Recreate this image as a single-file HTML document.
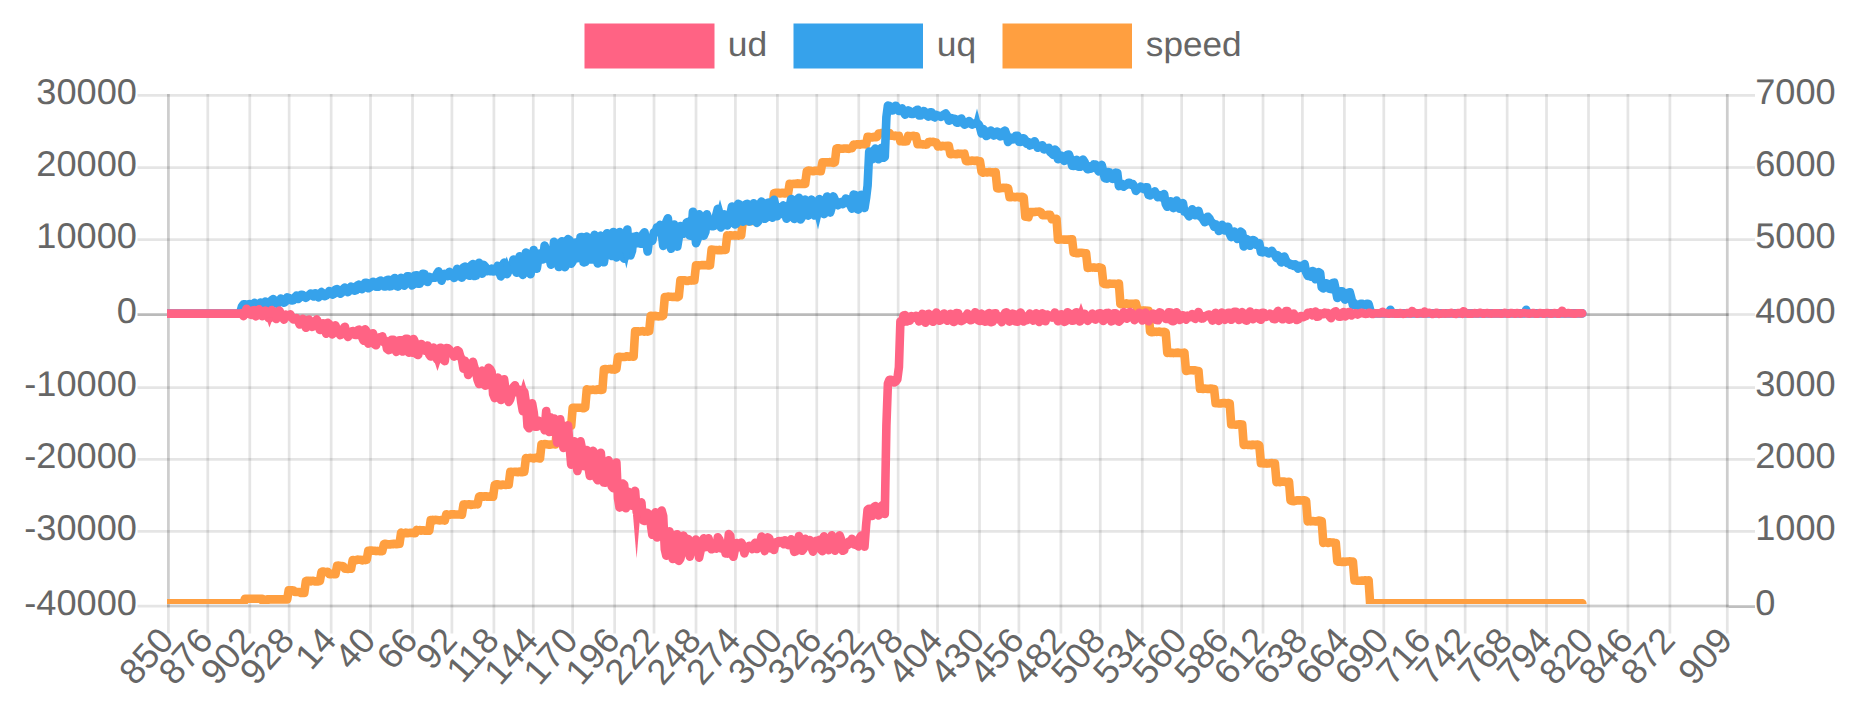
<!DOCTYPE html>
<html><head><meta charset="utf-8"><title>chart</title>
<style>
html,body{margin:0;padding:0;background:#fff;}
body{width:1859px;height:710px;overflow:hidden;font-family:"Liberation Sans",sans-serif;}
svg{display:block;}
text{text-rendering:geometricPrecision;}
</style></head><body>
<svg width="1859" height="710" viewBox="0 0 1859 710">
<defs><clipPath id="ca"><rect x="167.0" y="94.0" width="1558.9" height="510.0"/></clipPath></defs>
<line x1="168.40" y1="94.00" x2="168.40" y2="633.50" stroke="rgba(0,0,0,0.10)" stroke-width="2.75"/>
<line x1="207.78" y1="94.00" x2="207.78" y2="633.50" stroke="rgba(0,0,0,0.10)" stroke-width="2.75"/>
<line x1="249.78" y1="94.00" x2="249.78" y2="633.50" stroke="rgba(0,0,0,0.10)" stroke-width="2.75"/>
<line x1="289.15" y1="94.00" x2="289.15" y2="633.50" stroke="rgba(0,0,0,0.10)" stroke-width="2.75"/>
<line x1="331.15" y1="94.00" x2="331.15" y2="633.50" stroke="rgba(0,0,0,0.10)" stroke-width="2.75"/>
<line x1="370.52" y1="94.00" x2="370.52" y2="633.50" stroke="rgba(0,0,0,0.10)" stroke-width="2.75"/>
<line x1="412.52" y1="94.00" x2="412.52" y2="633.50" stroke="rgba(0,0,0,0.10)" stroke-width="2.75"/>
<line x1="451.90" y1="94.00" x2="451.90" y2="633.50" stroke="rgba(0,0,0,0.10)" stroke-width="2.75"/>
<line x1="493.90" y1="94.00" x2="493.90" y2="633.50" stroke="rgba(0,0,0,0.10)" stroke-width="2.75"/>
<line x1="533.27" y1="94.00" x2="533.27" y2="633.50" stroke="rgba(0,0,0,0.10)" stroke-width="2.75"/>
<line x1="572.65" y1="94.00" x2="572.65" y2="633.50" stroke="rgba(0,0,0,0.10)" stroke-width="2.75"/>
<line x1="614.65" y1="94.00" x2="614.65" y2="633.50" stroke="rgba(0,0,0,0.10)" stroke-width="2.75"/>
<line x1="654.02" y1="94.00" x2="654.02" y2="633.50" stroke="rgba(0,0,0,0.10)" stroke-width="2.75"/>
<line x1="696.02" y1="94.00" x2="696.02" y2="633.50" stroke="rgba(0,0,0,0.10)" stroke-width="2.75"/>
<line x1="735.40" y1="94.00" x2="735.40" y2="633.50" stroke="rgba(0,0,0,0.10)" stroke-width="2.75"/>
<line x1="777.40" y1="94.00" x2="777.40" y2="633.50" stroke="rgba(0,0,0,0.10)" stroke-width="2.75"/>
<line x1="816.77" y1="94.00" x2="816.77" y2="633.50" stroke="rgba(0,0,0,0.10)" stroke-width="2.75"/>
<line x1="858.77" y1="94.00" x2="858.77" y2="633.50" stroke="rgba(0,0,0,0.10)" stroke-width="2.75"/>
<line x1="898.15" y1="94.00" x2="898.15" y2="633.50" stroke="rgba(0,0,0,0.10)" stroke-width="2.75"/>
<line x1="937.52" y1="94.00" x2="937.52" y2="633.50" stroke="rgba(0,0,0,0.10)" stroke-width="2.75"/>
<line x1="979.52" y1="94.00" x2="979.52" y2="633.50" stroke="rgba(0,0,0,0.10)" stroke-width="2.75"/>
<line x1="1018.90" y1="94.00" x2="1018.90" y2="633.50" stroke="rgba(0,0,0,0.10)" stroke-width="2.75"/>
<line x1="1060.90" y1="94.00" x2="1060.90" y2="633.50" stroke="rgba(0,0,0,0.10)" stroke-width="2.75"/>
<line x1="1100.28" y1="94.00" x2="1100.28" y2="633.50" stroke="rgba(0,0,0,0.10)" stroke-width="2.75"/>
<line x1="1142.28" y1="94.00" x2="1142.28" y2="633.50" stroke="rgba(0,0,0,0.10)" stroke-width="2.75"/>
<line x1="1181.65" y1="94.00" x2="1181.65" y2="633.50" stroke="rgba(0,0,0,0.10)" stroke-width="2.75"/>
<line x1="1223.65" y1="94.00" x2="1223.65" y2="633.50" stroke="rgba(0,0,0,0.10)" stroke-width="2.75"/>
<line x1="1263.03" y1="94.00" x2="1263.03" y2="633.50" stroke="rgba(0,0,0,0.10)" stroke-width="2.75"/>
<line x1="1302.40" y1="94.00" x2="1302.40" y2="633.50" stroke="rgba(0,0,0,0.10)" stroke-width="2.75"/>
<line x1="1344.40" y1="94.00" x2="1344.40" y2="633.50" stroke="rgba(0,0,0,0.10)" stroke-width="2.75"/>
<line x1="1383.78" y1="94.00" x2="1383.78" y2="633.50" stroke="rgba(0,0,0,0.10)" stroke-width="2.75"/>
<line x1="1425.78" y1="94.00" x2="1425.78" y2="633.50" stroke="rgba(0,0,0,0.10)" stroke-width="2.75"/>
<line x1="1465.15" y1="94.00" x2="1465.15" y2="633.50" stroke="rgba(0,0,0,0.10)" stroke-width="2.75"/>
<line x1="1507.15" y1="94.00" x2="1507.15" y2="633.50" stroke="rgba(0,0,0,0.10)" stroke-width="2.75"/>
<line x1="1546.53" y1="94.00" x2="1546.53" y2="633.50" stroke="rgba(0,0,0,0.10)" stroke-width="2.75"/>
<line x1="1588.53" y1="94.00" x2="1588.53" y2="633.50" stroke="rgba(0,0,0,0.10)" stroke-width="2.75"/>
<line x1="1627.90" y1="94.00" x2="1627.90" y2="633.50" stroke="rgba(0,0,0,0.10)" stroke-width="2.75"/>
<line x1="1669.90" y1="94.00" x2="1669.90" y2="633.50" stroke="rgba(0,0,0,0.10)" stroke-width="2.75"/>
<line x1="1727.30" y1="94.00" x2="1727.30" y2="633.50" stroke="rgba(0,0,0,0.10)" stroke-width="2.75"/>
<line x1="168.40" y1="94.00" x2="168.40" y2="607.60" stroke="rgba(0,0,0,0.10)" stroke-width="2.75"/>
<line x1="1727.30" y1="94.00" x2="1727.30" y2="607.60" stroke="rgba(0,0,0,0.10)" stroke-width="2.75"/>
<line x1="137.50" y1="95.40" x2="1728.70" y2="95.40" stroke="rgba(0,0,0,0.10)" stroke-width="2.75"/>
<line x1="137.50" y1="167.50" x2="1728.70" y2="167.50" stroke="rgba(0,0,0,0.10)" stroke-width="2.75"/>
<line x1="137.50" y1="239.60" x2="1728.70" y2="239.60" stroke="rgba(0,0,0,0.10)" stroke-width="2.75"/>
<line x1="137.50" y1="314.50" x2="1728.70" y2="314.50" stroke="rgba(0,0,0,0.27)" stroke-width="2.75"/>
<line x1="137.50" y1="387.60" x2="1728.70" y2="387.60" stroke="rgba(0,0,0,0.10)" stroke-width="2.75"/>
<line x1="137.50" y1="459.40" x2="1728.70" y2="459.40" stroke="rgba(0,0,0,0.10)" stroke-width="2.75"/>
<line x1="137.50" y1="531.40" x2="1728.70" y2="531.40" stroke="rgba(0,0,0,0.10)" stroke-width="2.75"/>
<line x1="137.50" y1="606.20" x2="1728.70" y2="606.20" stroke="rgba(0,0,0,0.10)" stroke-width="2.75"/>
<line x1="167.00" y1="605.90" x2="1728.70" y2="605.90" stroke="rgba(0,0,0,0.10)" stroke-width="2.75"/>
<line x1="1728.70" y1="95.40" x2="1755.00" y2="95.40" stroke="rgba(0,0,0,0.10)" stroke-width="2.75"/>
<line x1="1728.70" y1="167.50" x2="1755.00" y2="167.50" stroke="rgba(0,0,0,0.10)" stroke-width="2.75"/>
<line x1="1728.70" y1="239.60" x2="1755.00" y2="239.60" stroke="rgba(0,0,0,0.10)" stroke-width="2.75"/>
<line x1="1728.70" y1="314.50" x2="1755.00" y2="314.50" stroke="rgba(0,0,0,0.10)" stroke-width="2.75"/>
<line x1="1728.70" y1="387.60" x2="1755.00" y2="387.60" stroke="rgba(0,0,0,0.10)" stroke-width="2.75"/>
<line x1="1728.70" y1="459.40" x2="1755.00" y2="459.40" stroke="rgba(0,0,0,0.10)" stroke-width="2.75"/>
<line x1="1728.70" y1="531.40" x2="1755.00" y2="531.40" stroke="rgba(0,0,0,0.10)" stroke-width="2.75"/>
<line x1="1728.70" y1="606.60" x2="1755.00" y2="606.60" stroke="rgba(0,0,0,0.25)" stroke-width="2.75"/>
<g clip-path="url(#ca)" fill="none" stroke-width="8.6" stroke-linejoin="round" stroke-linecap="round">
<path d="M167.0 603.2L168.6 603.2L170.1 603.2L171.7 603.2L173.2 603.2L174.8 603.2L176.4 603.2L177.9 603.2L179.5 603.2L181.0 603.2L182.6 603.2L184.2 603.2L185.7 603.2L187.3 603.2L188.8 603.2L190.4 603.2L192.0 603.2L193.5 603.2L195.1 603.2L196.6 603.2L198.2 603.2L199.8 603.2L201.3 603.2L202.9 603.2L204.5 603.2L206.0 603.2L207.6 603.2L209.1 603.2L210.7 603.2L212.3 603.2L213.8 603.2L215.4 603.2L216.9 603.2L218.5 603.2L220.1 603.2L221.6 603.2L223.2 603.2L224.7 603.2L226.3 603.2L227.9 603.2L229.4 603.2L231.0 603.2L232.5 603.2L234.1 603.2L235.7 603.2L237.2 603.2L238.8 603.2L240.3 603.2L241.9 603.2L243.5 603.2L245.0 598.7L246.6 598.7L248.1 598.7L249.7 598.7L251.3 598.7L252.8 598.7L254.4 598.7L255.9 598.7L257.5 598.7L259.1 598.7L260.6 598.7L262.2 598.7L263.7 603.0L265.3 603.0L266.9 599.4L268.4 599.4L270.0 599.4L271.6 599.4L273.1 599.4L274.7 599.4L276.2 599.4L277.8 599.4L279.4 599.4L280.9 599.4L282.5 599.4L284.0 599.4L285.6 599.4L287.2 599.4L288.7 590.2L290.3 590.4L291.8 590.3L293.4 590.5L295.0 592.0L296.5 592.0L298.1 592.0L299.6 592.0L301.2 593.0L302.8 593.0L304.3 593.0L305.9 581.2L307.4 580.7L309.0 580.7L310.6 581.4L312.1 580.9L313.7 580.9L315.2 581.5L316.8 581.1L318.4 581.4L319.9 581.1L321.5 571.9L323.0 571.5L324.6 571.9L326.2 572.1L327.7 571.8L329.3 574.2L330.8 574.2L332.4 573.6L334.0 574.2L335.5 574.1L337.1 565.8L338.7 565.6L340.2 566.3L341.8 566.0L343.3 566.2L344.9 568.8L346.5 568.7L348.0 568.9L349.6 568.4L351.1 568.8L352.7 560.0L354.3 560.4L355.8 560.3L357.4 559.6L358.9 559.7L360.5 559.7L362.1 560.4L363.6 559.9L365.2 560.1L366.7 559.8L368.3 550.7L369.9 550.6L371.4 550.6L373.0 550.8L374.5 550.8L376.1 551.1L377.7 550.9L379.2 551.1L380.8 551.0L382.3 551.1L383.9 544.2L385.5 543.7L387.0 544.3L388.6 544.4L390.1 544.4L391.7 544.1L393.3 544.2L394.8 543.7L396.4 544.3L397.9 544.1L399.5 543.8L401.1 532.6L402.6 533.3L404.2 533.4L405.8 532.6L407.3 533.3L408.9 532.9L410.4 532.7L412.0 532.8L413.6 533.2L415.1 533.3L416.7 530.0L418.2 530.5L419.8 530.0L421.4 530.6L422.9 530.2L424.5 530.7L426.0 530.8L427.6 530.4L429.2 530.8L430.7 520.1L432.3 519.9L433.8 520.4L435.4 519.9L437.0 520.0L438.5 520.2L440.1 520.4L441.6 520.0L443.2 519.9L444.8 520.6L446.3 514.2L447.9 514.8L449.4 514.8L451.0 514.3L452.6 514.4L454.1 514.4L455.7 514.5L457.2 514.5L458.8 514.5L460.4 514.5L461.9 514.8L463.5 504.5L465.0 504.4L466.6 504.7L468.2 504.3L469.7 504.3L471.3 504.9L472.9 504.5L474.4 504.5L476.0 504.1L477.5 504.4L479.1 496.7L480.7 496.2L482.2 496.7L483.8 496.7L485.3 496.2L486.9 496.7L488.5 496.6L490.0 496.8L491.6 496.5L493.1 496.8L494.7 485.0L496.3 484.4L497.8 484.4L499.4 485.0L500.9 485.2L502.5 484.6L504.1 484.8L505.6 484.9L507.2 484.6L508.7 484.7L510.3 471.8L511.9 471.9L513.4 472.1L515.0 471.8L516.5 471.9L518.1 472.2L519.7 471.6L521.2 472.1L522.8 472.2L524.3 471.8L525.9 458.0L527.5 458.5L529.0 458.0L530.6 457.9L532.1 458.1L533.7 458.4L535.3 457.8L536.8 458.0L538.4 458.1L540.0 458.5L541.5 444.3L543.1 444.7L544.6 444.1L546.2 444.3L547.8 444.5L549.3 444.7L550.9 444.4L552.4 444.2L554.0 444.1L555.6 444.4L557.1 425.7L558.7 426.3L560.2 426.3L561.8 425.7L563.4 425.8L564.9 426.3L566.5 426.1L568.0 426.3L569.6 425.9L571.2 425.7L572.7 407.7L574.3 408.2L575.8 407.7L577.4 407.8L579.0 407.8L580.5 407.8L582.1 407.8L583.6 408.3L585.2 407.6L586.8 389.2L588.3 390.0L589.9 389.9L591.4 390.0L593.0 389.5L594.6 390.0L596.1 390.0L597.7 389.3L599.2 389.8L600.8 389.9L602.4 389.7L603.9 369.3L605.5 369.1L607.0 369.2L608.6 369.1L610.2 368.9L611.7 369.4L613.3 369.1L614.9 369.6L616.4 368.9L618.0 357.0L619.5 356.8L621.1 357.0L622.7 357.0L624.2 357.0L625.8 356.7L627.3 356.2L628.9 356.8L630.5 356.3L632.0 356.4L633.6 356.7L635.1 331.3L636.7 331.2L638.3 331.7L639.8 331.4L641.4 331.2L642.9 331.1L644.5 331.6L646.1 331.3L647.6 331.6L649.2 331.2L650.7 315.7L652.3 316.0L653.9 316.3L655.4 315.7L657.0 316.3L658.5 316.4L660.1 316.3L661.7 316.3L663.2 315.6L664.8 297.1L666.3 297.3L667.9 296.6L669.5 296.8L671.0 296.8L672.6 297.0L674.1 296.9L675.7 297.0L677.3 297.2L678.8 296.6L680.4 280.2L682.0 280.3L683.5 280.3L685.1 280.2L686.6 281.0L688.2 280.9L689.8 280.2L691.3 280.6L692.9 280.4L694.4 280.4L696.0 265.2L697.6 265.4L699.1 265.4L700.7 265.2L702.2 265.0L703.8 265.1L705.4 265.0L706.9 265.3L708.5 265.5L710.0 265.2L711.6 249.6L713.2 249.7L714.7 249.9L716.3 250.1L717.8 250.3L719.4 249.9L721.0 250.3L722.5 250.1L724.1 249.9L725.6 249.9L727.2 235.4L728.8 235.6L730.3 235.3L731.9 235.6L733.4 235.4L735.0 235.2L736.6 235.4L738.1 235.6L739.7 235.0L741.2 235.3L742.8 220.9L744.4 221.3L745.9 221.4L747.5 220.9L749.1 221.4L750.6 221.3L752.2 220.8L753.7 221.0L755.3 220.7L756.9 221.3L758.4 207.1L760.0 207.3L761.5 207.3L763.1 207.2L764.7 207.2L766.2 207.1L767.8 206.6L769.3 207.1L770.9 206.6L772.5 206.7L774.0 193.4L775.6 192.8L777.1 192.8L778.7 192.8L780.3 193.5L781.8 192.9L783.4 192.8L784.9 193.5L786.5 192.9L788.1 193.5L789.6 183.9L791.2 184.0L792.7 184.1L794.3 183.8L795.9 184.0L797.4 183.3L799.0 183.9L800.5 183.7L802.1 183.9L803.7 183.3L805.2 183.9L806.8 171.4L808.3 170.6L809.9 170.8L811.5 171.1L813.0 171.3L814.6 170.8L816.2 170.7L817.7 170.8L819.3 171.1L820.8 171.2L822.4 162.4L824.0 162.4L825.5 162.4L827.1 162.4L828.6 162.4L830.2 162.1L831.8 162.5L833.3 162.9L834.9 162.4L836.4 148.7L838.0 148.2L839.6 148.7L841.1 148.7L842.7 148.7L844.2 148.5L845.8 148.5L847.4 148.6L848.9 148.9L850.5 148.2L852.0 148.1L853.6 144.6L855.2 144.8L856.7 144.4L858.3 144.3L859.8 144.6L861.4 144.1L863.0 144.2L864.5 144.1L866.1 144.5L867.6 136.8L869.2 136.8L870.8 137.2L872.3 137.4L873.9 136.8L875.4 137.2L877.0 136.9L878.6 133.6L880.1 133.4L881.7 133.1L883.3 133.0L884.8 132.9L886.4 133.3L887.9 133.2L889.5 133.0L891.1 135.8L892.6 135.7L894.2 136.1L895.7 135.6L897.3 136.3L898.9 135.9L900.4 141.3L902.0 141.2L903.5 141.5L905.1 141.5L906.7 141.3L908.2 135.9L909.8 136.1L911.3 136.2L912.9 135.8L914.5 136.1L916.0 136.3L917.6 144.2L919.1 144.0L920.7 144.0L922.3 144.4L923.8 144.4L925.4 144.6L926.9 144.5L928.5 142.0L930.1 141.9L931.6 142.0L933.2 141.9L934.7 142.4L936.3 142.5L937.9 146.5L939.4 145.9L941.0 146.4L942.5 145.9L944.1 146.0L945.7 146.3L947.2 145.7L948.8 145.7L950.4 154.3L951.9 153.8L953.5 153.9L955.0 154.1L956.6 154.2L958.2 153.6L959.7 153.9L961.3 153.9L962.8 154.0L964.4 153.7L966.0 161.0L967.5 161.3L969.1 160.8L970.6 160.9L972.2 160.6L973.8 160.7L975.3 161.0L976.9 160.6L978.4 161.2L980.0 161.3L981.6 171.8L983.1 172.6L984.7 172.1L986.2 172.4L987.8 172.4L989.4 172.0L990.9 172.4L992.5 172.3L994.0 172.5L995.6 172.0L997.2 188.2L998.7 188.4L1000.3 188.2L1001.8 188.0L1003.4 187.7L1005.0 188.0L1006.5 187.9L1008.1 188.2L1009.6 197.2L1011.2 197.1L1012.8 196.7L1014.3 197.1L1015.9 197.1L1017.5 196.7L1019.0 197.4L1020.6 197.1L1022.1 196.7L1023.7 197.4L1025.3 216.7L1026.8 216.8L1028.4 217.2L1029.9 212.1L1031.5 212.0L1033.1 212.1L1034.6 212.0L1036.2 211.8L1037.7 211.7L1039.3 211.6L1040.9 212.2L1042.4 215.2L1044.0 215.0L1045.5 215.2L1047.1 214.9L1048.7 214.8L1050.2 214.9L1051.8 219.3L1053.3 218.6L1054.9 219.0L1056.5 218.8L1058.0 239.8L1059.6 239.5L1061.1 239.4L1062.7 239.5L1064.3 239.6L1065.8 239.8L1067.4 239.5L1068.9 239.9L1070.5 239.3L1072.1 239.4L1073.6 252.6L1075.2 252.7L1076.7 253.3L1078.3 253.2L1079.9 252.7L1081.4 252.7L1083.0 252.9L1084.6 253.2L1086.1 253.3L1087.7 267.9L1089.2 267.8L1090.8 267.4L1092.4 267.6L1093.9 267.4L1095.5 267.7L1097.0 267.8L1098.6 267.4L1100.2 267.5L1101.7 268.0L1103.3 283.3L1104.8 284.0L1106.4 284.1L1108.0 284.1L1109.5 283.6L1111.1 283.7L1112.6 283.8L1114.2 283.8L1115.8 284.1L1117.3 283.9L1118.9 283.5L1120.4 304.1L1122.0 303.8L1123.6 303.9L1125.1 304.0L1126.7 303.4L1128.2 304.0L1129.8 303.9L1131.4 303.8L1132.9 303.8L1134.5 303.8L1136.0 303.5L1137.6 310.5L1139.2 310.1L1140.7 310.5L1142.3 310.6L1143.8 310.4L1145.4 310.6L1147.0 310.9L1148.5 310.9L1150.1 331.7L1151.7 332.3L1153.2 332.1L1154.8 331.6L1156.3 331.9L1157.9 331.8L1159.5 331.6L1161.0 332.0L1162.6 332.4L1164.1 331.8L1165.7 332.3L1167.3 352.9L1168.8 352.4L1170.4 353.0L1171.9 352.8L1173.5 353.1L1175.1 352.9L1176.6 352.9L1178.2 352.6L1179.7 353.0L1181.3 353.1L1182.9 353.0L1184.4 352.6L1186.0 370.9L1187.5 370.7L1189.1 370.3L1190.7 370.3L1192.2 370.3L1193.8 370.4L1195.3 370.4L1196.9 370.7L1198.5 370.9L1200.0 388.8L1201.6 388.7L1203.1 388.9L1204.7 388.6L1206.3 388.8L1207.8 389.0L1209.4 388.7L1210.9 388.5L1212.5 389.2L1214.1 389.0L1215.6 403.3L1217.2 403.3L1218.8 403.4L1220.3 403.5L1221.9 403.2L1223.4 403.0L1225.0 403.1L1226.6 403.7L1228.1 403.1L1229.7 403.4L1231.2 424.5L1232.8 424.5L1234.4 424.5L1235.9 424.7L1237.5 424.5L1239.0 424.4L1240.6 424.4L1242.2 424.5L1243.7 445.0L1245.3 444.6L1246.8 444.6L1248.4 445.0L1250.0 444.9L1251.5 445.2L1253.1 444.6L1254.6 444.9L1256.2 444.9L1257.8 444.6L1259.3 445.4L1260.9 463.2L1262.4 463.1L1264.0 463.5L1265.6 463.2L1267.1 463.6L1268.7 463.4L1270.2 463.2L1271.8 463.1L1273.4 463.7L1274.9 463.3L1276.5 482.1L1278.0 481.8L1279.6 482.2L1281.2 481.6L1282.7 481.6L1284.3 481.6L1285.9 482.1L1287.4 481.9L1289.0 481.7L1290.5 500.4L1292.1 501.0L1293.7 501.2L1295.2 500.9L1296.8 500.4L1298.3 500.4L1299.9 500.4L1301.5 500.5L1303.0 500.4L1304.6 500.4L1306.1 500.9L1307.7 521.4L1309.3 520.7L1310.8 521.4L1312.4 521.0L1313.9 521.3L1315.5 521.4L1317.1 521.4L1318.6 520.6L1320.2 520.8L1321.7 521.1L1323.3 543.0L1324.9 542.2L1326.4 542.4L1328.0 542.9L1329.5 542.3L1331.1 542.5L1332.7 542.5L1334.2 542.8L1335.8 543.0L1337.3 561.3L1338.9 561.8L1340.5 561.8L1342.0 561.9L1343.6 561.6L1345.1 562.0L1346.7 561.5L1348.3 561.5L1349.8 561.4L1351.4 561.9L1352.9 561.6L1354.5 580.4L1356.1 580.3L1357.6 580.8L1359.2 580.7L1360.8 580.8L1362.3 580.5L1363.9 580.6L1365.4 580.3L1367.0 580.8L1368.6 580.2L1370.1 603.2L1371.7 603.2L1373.2 603.2L1374.8 603.2L1376.4 603.2L1377.9 603.2L1379.5 603.2L1381.0 603.2L1382.6 603.2L1384.2 603.2L1385.7 603.2L1387.3 603.2L1388.8 603.2L1390.4 603.2L1392.0 603.2L1393.5 603.2L1395.1 603.2L1396.6 603.2L1398.2 603.2L1399.8 603.2L1401.3 603.2L1402.9 603.2L1404.4 603.2L1406.0 603.2L1407.6 603.2L1409.1 603.2L1410.7 603.2L1412.2 603.2L1413.8 603.2L1415.4 603.2L1416.9 603.2L1418.5 603.2L1420.0 603.2L1421.6 603.2L1423.2 603.2L1424.7 603.2L1426.3 603.2L1427.9 603.2L1429.4 603.2L1431.0 603.2L1432.5 603.2L1434.1 603.2L1435.7 603.2L1437.2 603.2L1438.8 603.2L1440.3 603.2L1441.9 603.2L1443.5 603.2L1445.0 603.2L1446.6 603.2L1448.1 603.2L1449.7 603.2L1451.3 603.2L1452.8 603.2L1454.4 603.2L1455.9 603.2L1457.5 603.2L1459.1 603.2L1460.6 603.2L1462.2 603.2L1463.7 603.2L1465.3 603.2L1466.9 603.2L1468.4 603.2L1470.0 603.2L1471.5 603.2L1473.1 603.2L1474.7 603.2L1476.2 603.2L1477.8 603.2L1479.3 603.2L1480.9 603.2L1482.5 603.2L1484.0 603.2L1485.6 603.2L1487.1 603.2L1488.7 603.2L1490.3 603.2L1491.8 603.2L1493.4 603.2L1495.0 603.2L1496.5 603.2L1498.1 603.2L1499.6 603.2L1501.2 603.2L1502.8 603.2L1504.3 603.2L1505.9 603.2L1507.4 603.2L1509.0 603.2L1510.6 603.2L1512.1 603.2L1513.7 603.2L1515.2 603.2L1516.8 603.2L1518.4 603.2L1519.9 603.2L1521.5 603.2L1523.0 603.2L1524.6 603.2L1526.2 603.2L1527.7 603.2L1529.3 603.2L1530.8 603.2L1532.4 603.2L1534.0 603.2L1535.5 603.2L1537.1 603.2L1538.6 603.2L1540.2 603.2L1541.8 603.2L1543.3 603.2L1544.9 603.2L1546.4 603.2L1548.0 603.2L1549.6 603.2L1551.1 603.2L1552.7 603.2L1554.2 603.2L1555.8 603.2L1557.4 603.2L1558.9 603.2L1560.5 603.2L1562.1 603.2L1563.6 603.2L1565.2 603.2L1566.7 603.2L1568.3 603.2L1569.9 603.2L1571.4 603.2L1573.0 603.2L1574.5 603.2L1576.1 603.2L1577.7 603.2L1579.2 603.2L1580.8 603.2L1582.3 603.2" stroke="#ff9f40"/>
<path d="M167.0 313.6L168.6 313.6L170.1 313.6L171.7 313.6L173.2 313.6L174.8 313.6L176.4 313.6L177.9 313.6L179.5 313.6L181.0 313.6L182.6 313.6L184.2 313.6L185.7 313.6L187.3 313.6L188.8 313.6L190.4 313.6L192.0 313.6L193.5 313.6L195.1 313.6L196.6 313.6L198.2 313.6L199.8 313.6L201.3 313.6L202.9 313.6L204.5 313.6L206.0 313.6L207.6 313.6L209.1 313.6L210.7 313.6L212.3 313.6L213.8 313.6L215.4 313.6L216.9 313.6L218.5 313.6L220.1 313.6L221.6 313.6L223.2 313.6L224.7 313.6L226.3 313.6L227.9 313.6L229.4 313.6L231.0 313.6L232.5 313.6L234.1 313.6L235.7 313.6L237.2 313.6L238.8 313.6L240.3 312.5L241.9 306.7L243.5 304.3L245.0 304.4L246.6 307.1L248.1 307.9L249.7 304.0L251.3 305.8L252.8 304.3L254.4 302.9L255.9 304.4L257.5 306.7L259.1 304.4L260.6 302.5L262.2 304.7L263.7 305.3L265.3 301.6L266.9 302.2L268.4 305.0L270.0 303.3L271.6 300.2L273.1 299.1L274.7 300.5L276.2 303.7L277.8 303.7L279.4 300.7L280.9 298.6L282.5 300.6L284.0 302.7L285.6 301.5L287.2 297.4L288.7 297.8L290.3 298.6L291.8 300.4L293.4 300.2L295.0 297.2L296.5 295.6L298.1 299.0L299.6 297.9L301.2 294.8L302.8 295.1L304.3 296.8L305.9 297.8L307.4 296.5L309.0 295.1L310.6 293.6L312.1 295.6L313.7 296.5L315.2 293.2L316.8 295.4L318.4 297.4L319.9 293.9L321.5 292.1L323.0 293.2L324.6 296.1L326.2 295.5L327.7 293.6L329.3 291.0L330.8 292.9L332.4 294.6L334.0 293.8L335.5 289.5L337.1 289.0L338.7 290.9L340.2 293.7L341.8 292.5L343.3 288.9L344.9 287.5L346.5 290.6L348.0 292.2L349.6 290.1L351.1 286.6L352.7 287.5L354.3 290.7L355.8 290.4L357.4 285.5L358.9 284.6L360.5 288.6L362.1 289.1L363.6 287.2L365.2 282.8L366.7 282.9L368.3 288.3L369.9 287.3L371.4 285.0L373.0 281.7L374.5 283.6L376.1 286.7L377.7 286.8L379.2 281.2L380.8 280.6L382.3 284.4L383.9 286.5L385.5 286.5L387.0 280.0L388.6 279.8L390.1 286.3L391.7 286.0L393.3 279.4L394.8 278.0L396.4 286.0L397.9 286.6L399.5 281.1L401.1 277.9L402.6 278.8L404.2 285.7L405.8 283.4L407.3 276.4L408.9 276.3L410.4 279.5L412.0 285.4L413.6 284.3L415.1 275.4L416.7 275.2L418.2 283.7L419.8 283.6L421.4 279.8L422.9 273.7L424.5 273.9L426.0 280.5L427.6 282.0L429.2 276.8L430.7 277.9L432.3 277.9L433.8 277.0L435.4 277.6L437.0 273.6L438.5 271.4L440.1 274.4L441.6 280.7L443.2 274.5L444.8 273.9L446.3 275.6L447.9 276.2L449.4 271.9L451.0 273.5L452.6 275.0L454.1 278.0L455.7 273.7L457.2 268.8L458.8 271.3L460.4 276.6L461.9 277.6L463.5 267.3L465.0 266.6L466.6 270.4L468.2 275.2L469.7 275.8L471.3 265.3L472.9 264.0L474.4 276.0L476.0 275.6L477.5 264.3L479.1 262.7L480.7 273.2L482.2 273.7L483.8 264.9L485.3 266.7L486.9 271.2L488.5 269.8L490.0 271.3L491.6 268.6L493.1 271.5L494.7 271.3L496.3 268.6L497.8 265.7L499.4 272.5L500.9 276.4L502.5 266.5L504.1 262.6L505.6 265.6L507.2 274.1L508.7 270.0L510.3 269.8L511.9 266.9L513.4 259.5L515.0 266.4L516.5 272.7L518.1 267.1L519.7 256.2L521.2 263.9L522.8 274.9L524.3 269.0L525.9 252.6L527.5 257.1L529.0 271.9L530.6 274.2L532.1 256.2L533.7 250.0L535.3 263.3L536.8 268.7L538.4 258.1L540.0 253.3L541.5 258.8L543.1 259.4L544.6 245.5L546.2 251.3L547.8 256.2L549.3 257.2L550.9 264.7L552.4 259.0L554.0 241.9L555.6 243.3L557.1 257.7L558.7 267.0L560.2 257.5L561.8 241.2L563.4 249.8L564.9 267.3L566.5 264.3L568.0 239.1L569.6 240.1L571.2 263.7L572.7 261.4L574.3 246.2L575.8 242.5L577.4 258.2L579.0 252.8L580.5 237.3L582.1 237.0L583.6 262.4L585.2 262.1L586.8 236.5L588.3 239.3L589.9 259.5L591.4 259.4L593.0 238.0L594.6 234.8L596.1 254.5L597.7 263.5L599.2 242.5L600.8 235.6L602.4 249.2L603.9 262.3L605.5 252.3L607.0 233.2L608.6 248.2L610.2 253.3L611.7 256.0L613.3 232.0L614.9 246.3L616.4 257.4L618.0 243.8L619.5 232.1L621.1 240.2L622.7 257.0L624.2 258.7L625.8 238.4L627.3 229.5L628.9 255.0L630.5 255.3L632.0 250.9L633.6 236.9L635.1 243.3L636.7 236.1L638.3 243.3L639.8 243.3L641.4 243.8L642.9 234.2L644.5 232.3L646.1 239.9L647.6 251.5L649.2 239.2L650.7 240.4L652.3 240.8L653.9 232.2L655.4 232.7L657.0 227.2L658.5 231.8L660.1 224.9L661.7 232.1L663.2 245.9L664.8 242.9L666.3 222.0L667.9 218.3L669.5 238.6L671.0 248.7L672.6 239.6L674.1 224.5L675.7 234.3L677.3 246.6L678.8 237.2L680.4 226.0L682.0 230.2L683.5 233.7L685.1 229.7L686.6 222.6L688.2 221.8L689.8 235.6L691.3 235.9L692.9 211.7L694.4 223.9L696.0 243.2L697.6 239.0L699.1 214.3L700.7 221.7L702.2 233.1L703.8 235.7L705.4 231.8L706.9 214.4L708.5 219.1L710.0 225.4L711.6 226.2L713.2 226.2L714.7 225.7L716.3 214.8L717.8 208.9L719.4 221.6L721.0 227.5L722.5 217.2L724.1 214.3L725.6 216.9L727.2 225.5L728.8 222.2L730.3 215.0L731.9 206.5L733.4 208.3L735.0 224.5L736.6 223.4L738.1 203.9L739.7 204.7L741.2 214.5L742.8 221.7L744.4 215.1L745.9 204.4L747.5 203.8L749.1 221.5L750.6 220.9L752.2 207.0L753.7 203.3L755.3 210.3L756.9 222.9L758.4 221.0L760.0 203.8L761.5 201.5L763.1 206.6L764.7 218.8L766.2 217.9L767.8 202.7L769.3 202.5L770.9 215.3L772.5 217.7L774.0 199.9L775.6 206.5L777.1 216.3L778.7 207.3L780.3 209.2L781.8 213.9L783.4 205.4L784.9 210.6L786.5 218.7L788.1 217.1L789.6 206.6L791.2 199.0L792.7 214.2L794.3 219.0L795.9 206.3L797.4 199.4L799.0 197.8L800.5 219.5L802.1 216.8L803.7 202.5L805.2 199.5L806.8 213.9L808.3 215.6L809.9 206.9L811.5 199.6L813.0 202.6L814.6 215.5L816.2 214.2L817.7 203.3L819.3 199.1L820.8 204.7L822.4 210.3L824.0 214.1L825.5 202.1L827.1 196.5L828.6 202.9L830.2 212.6L831.8 206.9L833.3 196.4L834.9 199.9L836.4 203.7L838.0 205.2L839.6 203.9L841.1 202.1L842.7 204.2L844.2 202.5L845.8 198.5L847.4 203.1L848.9 199.9L850.5 205.5L852.0 208.7L853.6 194.6L855.2 195.0L856.7 208.9L858.3 209.6L859.8 195.5L861.4 194.9L863.0 203.1L864.5 208.0L866.1 197.9L867.6 185.5L869.2 151.6L870.8 158.1L872.3 159.2L873.9 150.6L875.4 148.6L877.0 155.3L878.6 159.3L880.1 149.8L881.7 147.8L883.3 157.8L884.8 156.8L886.4 117.0L887.9 105.6L889.5 106.0L891.1 110.3L892.6 110.5L894.2 107.3L895.7 105.7L897.3 108.0L898.9 110.9L900.4 110.7L902.0 108.4L903.5 111.3L905.1 114.7L906.7 112.1L908.2 110.4L909.8 111.1L911.3 114.0L912.9 113.9L914.5 112.5L916.0 110.5L917.6 109.7L919.1 115.4L920.7 115.5L922.3 113.5L923.8 111.0L925.4 112.3L926.9 115.5L928.5 116.6L930.1 112.4L931.6 112.3L933.2 116.5L934.7 117.4L936.3 115.0L937.9 116.0L939.4 115.8L941.0 116.9L942.5 116.0L944.1 114.5L945.7 113.6L947.2 115.9L948.8 120.7L950.4 120.0L951.9 118.2L953.5 118.8L955.0 118.8L956.6 122.7L958.2 122.6L959.7 119.6L961.3 118.5L962.8 122.0L964.4 124.6L966.0 124.0L967.5 123.0L969.1 121.0L970.6 123.6L972.2 124.6L973.8 123.6L975.3 123.7L976.9 123.2L978.4 124.1L980.0 127.1L981.6 133.5L983.1 129.0L984.7 130.4L986.2 136.0L987.8 135.3L989.4 132.5L990.9 130.6L992.5 132.5L994.0 135.5L995.6 135.0L997.2 131.6L998.7 132.3L1000.3 136.4L1001.8 136.1L1003.4 131.6L1005.0 130.6L1006.5 134.8L1008.1 142.0L1009.6 139.3L1011.2 137.7L1012.8 139.4L1014.3 139.0L1015.9 135.7L1017.5 135.8L1019.0 141.8L1020.6 141.9L1022.1 138.6L1023.7 138.3L1025.3 140.3L1026.8 143.8L1028.4 142.1L1029.9 145.5L1031.5 145.0L1033.1 142.8L1034.6 141.3L1036.2 144.4L1037.7 147.8L1039.3 146.7L1040.9 146.9L1042.4 145.3L1044.0 149.4L1045.5 148.2L1047.1 148.2L1048.7 147.8L1050.2 152.1L1051.8 153.3L1053.3 155.0L1054.9 149.6L1056.5 151.0L1058.0 159.3L1059.6 158.4L1061.1 155.5L1062.7 157.9L1064.3 161.0L1065.8 158.3L1067.4 154.7L1068.9 154.5L1070.5 159.2L1072.1 165.8L1073.6 165.9L1075.2 160.6L1076.7 159.8L1078.3 166.6L1079.9 166.7L1081.4 162.5L1083.0 159.5L1084.6 162.0L1086.1 167.2L1087.7 169.3L1089.2 166.3L1090.8 168.7L1092.4 167.6L1093.9 164.4L1095.5 164.6L1097.0 168.3L1098.6 171.4L1100.2 170.0L1101.7 164.9L1103.3 171.8L1104.8 178.3L1106.4 178.6L1108.0 172.1L1109.5 172.2L1111.1 176.5L1112.6 178.9L1114.2 176.1L1115.8 172.7L1117.3 173.0L1118.9 186.1L1120.4 185.1L1122.0 183.7L1123.6 186.7L1125.1 185.5L1126.7 184.8L1128.2 182.9L1129.8 182.9L1131.4 184.9L1132.9 184.2L1134.5 186.8L1136.0 190.9L1137.6 188.9L1139.2 188.2L1140.7 186.7L1142.3 187.5L1143.8 189.2L1145.4 187.3L1147.0 187.3L1148.5 194.9L1150.1 195.4L1151.7 193.8L1153.2 194.2L1154.8 191.3L1156.3 195.0L1157.9 197.3L1159.5 195.0L1161.0 197.4L1162.6 195.9L1164.1 194.0L1165.7 203.9L1167.3 206.8L1168.8 204.5L1170.4 201.2L1171.9 204.0L1173.5 208.1L1175.1 204.0L1176.6 200.5L1178.2 204.2L1179.7 208.6L1181.3 208.2L1182.9 203.0L1184.4 211.7L1186.0 212.1L1187.5 213.7L1189.1 216.4L1190.7 212.8L1192.2 209.3L1193.8 211.7L1195.3 215.3L1196.9 214.1L1198.5 210.8L1200.0 216.3L1201.6 217.4L1203.1 219.3L1204.7 222.1L1206.3 221.3L1207.8 216.7L1209.4 218.4L1210.9 221.5L1212.5 222.9L1214.1 226.7L1215.6 224.2L1217.2 225.8L1218.8 231.0L1220.3 229.1L1221.9 224.8L1223.4 226.2L1225.0 230.5L1226.6 229.5L1228.1 226.7L1229.7 233.7L1231.2 237.1L1232.8 232.9L1234.4 231.5L1235.9 236.6L1237.5 239.0L1239.0 233.4L1240.6 231.8L1242.2 233.0L1243.7 246.5L1245.3 244.8L1246.8 239.1L1248.4 240.3L1250.0 245.8L1251.5 243.2L1253.1 240.1L1254.6 240.7L1256.2 244.9L1257.8 243.7L1259.3 243.3L1260.9 252.1L1262.4 252.4L1264.0 250.9L1265.6 251.0L1267.1 252.4L1268.7 253.5L1270.2 252.7L1271.8 250.8L1273.4 253.3L1274.9 254.6L1276.5 258.0L1278.0 255.4L1279.6 259.6L1281.2 262.4L1282.7 257.7L1284.3 256.5L1285.9 260.3L1287.4 263.2L1289.0 263.0L1290.5 265.0L1292.1 264.4L1293.7 266.0L1295.2 264.2L1296.8 267.1L1298.3 268.7L1299.9 265.9L1301.5 267.6L1303.0 268.2L1304.6 264.1L1306.1 272.2L1307.7 275.9L1309.3 275.7L1310.8 276.7L1312.4 271.0L1313.9 271.5L1315.5 279.3L1317.1 277.9L1318.6 272.1L1320.2 273.1L1321.7 287.3L1323.3 288.4L1324.9 285.3L1326.4 283.2L1328.0 284.4L1329.5 288.8L1331.1 289.1L1332.7 283.0L1334.2 282.7L1335.8 290.0L1337.3 298.0L1338.9 294.1L1340.5 291.3L1342.0 291.3L1343.6 297.2L1345.1 299.6L1346.7 294.9L1348.3 292.6L1349.8 292.3L1351.4 298.4L1352.9 305.0L1354.5 303.4L1356.1 304.9L1357.6 305.6L1359.2 305.5L1360.8 303.7L1362.3 303.7L1363.9 305.2L1365.4 305.3L1367.0 303.7L1368.6 304.0L1370.1 309.6L1371.7 313.5L1373.2 313.4L1374.8 313.4L1376.4 313.4L1377.9 313.4L1379.5 313.4L1381.0 313.4L1382.6 313.4L1384.2 313.4L1385.7 313.4L1387.3 313.4L1388.8 313.4L1390.4 309.8L1392.0 313.4L1393.5 313.4L1395.1 313.4L1396.6 313.4L1398.2 313.4L1399.8 313.4L1401.3 313.4L1402.9 313.4L1404.4 313.4L1406.0 313.4L1407.6 313.4L1409.1 313.4L1410.7 313.4L1412.2 313.4L1413.8 313.4L1415.4 313.4L1416.9 313.4L1418.5 313.4L1420.0 313.4L1421.6 313.4L1423.2 313.4L1424.7 313.4L1426.3 313.4L1427.9 313.4L1429.4 313.4L1431.0 313.4L1432.5 313.4L1434.1 313.4L1435.7 313.4L1437.2 313.4L1438.8 313.4L1440.3 313.4L1441.9 313.4L1443.5 313.4L1445.0 313.4L1446.6 313.4L1448.1 313.4L1449.7 313.4L1451.3 313.4L1452.8 313.4L1454.4 313.4L1455.9 313.4L1457.5 313.4L1459.1 313.4L1460.6 313.4L1462.2 313.4L1463.7 313.4L1465.3 313.4L1466.9 313.4L1468.4 313.4L1470.0 313.4L1471.5 313.4L1473.1 313.4L1474.7 313.4L1476.2 313.4L1477.8 313.4L1479.3 313.4L1480.9 313.4L1482.5 313.4L1484.0 313.4L1485.6 313.4L1487.1 313.4L1488.7 313.4L1490.3 313.4L1491.8 313.4L1493.4 313.4L1495.0 313.4L1496.5 313.4L1498.1 313.4L1499.6 313.4L1501.2 313.4L1502.8 313.4L1504.3 313.4L1505.9 313.4L1507.4 313.4L1509.0 313.4L1510.6 313.4L1512.1 313.4L1513.7 313.4L1515.2 313.4L1516.8 313.4L1518.4 313.4L1519.9 313.4L1521.5 313.4L1523.0 313.4L1524.6 313.4L1526.2 309.8L1527.7 313.4L1529.3 313.4L1530.8 313.4L1532.4 313.4L1534.0 313.4L1535.5 313.4L1537.1 313.4L1538.6 313.4L1540.2 313.4L1541.8 313.4L1543.3 313.4L1544.9 313.4L1546.4 313.4L1548.0 313.4L1549.6 313.4L1551.1 313.4L1552.7 313.4L1554.2 313.4L1555.8 313.4L1557.4 313.4L1558.9 313.4L1560.5 313.4L1562.1 313.4L1563.6 313.4L1565.2 313.4L1566.7 313.4L1568.3 313.4L1569.9 313.4L1571.4 313.4L1573.0 313.4L1574.5 313.4L1576.1 313.4L1577.7 313.4L1579.2 313.4L1580.8 313.4L1582.3 313.4" stroke="#36a2eb"/>
<path d="M167.0 313.6L168.6 313.6L170.1 313.6L171.7 313.6L173.2 313.6L174.8 313.6L176.4 313.6L177.9 313.6L179.5 313.6L181.0 313.6L182.6 313.6L184.2 313.6L185.7 313.6L187.3 313.6L188.8 313.6L190.4 313.6L192.0 313.6L193.5 313.6L195.1 313.6L196.6 313.6L198.2 313.6L199.8 313.6L201.3 313.6L202.9 313.6L204.5 313.6L206.0 313.6L207.6 313.6L209.1 313.6L210.7 313.6L212.3 313.6L213.8 313.6L215.4 313.6L216.9 313.6L218.5 313.6L220.1 313.6L221.6 313.6L223.2 313.6L224.7 313.6L226.3 313.6L227.9 313.6L229.4 313.6L231.0 313.6L232.5 313.6L234.1 313.6L235.7 313.6L237.2 313.6L238.8 313.6L240.3 313.6L241.9 313.3L243.5 316.1L245.0 312.7L246.6 308.7L248.1 311.4L249.7 314.1L251.3 314.9L252.8 310.5L254.4 310.1L255.9 316.4L257.5 310.9L259.1 309.4L260.6 314.3L262.2 316.2L263.7 313.7L265.3 310.6L266.9 312.8L268.4 317.9L270.0 317.8L271.6 310.0L273.1 311.2L274.7 316.6L276.2 319.0L277.8 315.7L279.4 310.5L280.9 314.1L282.5 316.4L284.0 319.6L285.6 314.5L287.2 316.8L288.7 315.1L290.3 314.3L291.8 317.8L293.4 319.4L295.0 318.5L296.5 318.2L298.1 320.8L299.6 324.5L301.2 320.3L302.8 318.9L304.3 322.6L305.9 327.8L307.4 320.7L309.0 319.5L310.6 324.0L312.1 326.9L313.7 326.1L315.2 322.3L316.8 319.4L318.4 323.2L319.9 330.0L321.5 326.7L323.0 323.3L324.6 329.8L326.2 333.7L327.7 322.8L329.3 324.1L330.8 333.1L332.4 334.4L334.0 328.5L335.5 325.3L337.1 331.6L338.7 331.9L340.2 335.2L341.8 332.1L343.3 328.5L344.9 326.7L346.5 334.7L348.0 337.0L349.6 333.4L351.1 332.0L352.7 331.0L354.3 334.8L355.8 335.0L357.4 330.3L358.9 329.6L360.5 332.5L362.1 337.5L363.6 340.8L365.2 329.2L366.7 331.6L368.3 343.6L369.9 342.9L371.4 334.8L373.0 333.2L374.5 344.3L376.1 345.3L377.7 339.9L379.2 337.4L380.8 340.5L382.3 336.4L383.9 342.3L385.5 340.8L387.0 348.9L388.6 350.1L390.1 349.7L391.7 339.8L393.3 339.9L394.8 348.1L396.4 351.9L397.9 347.7L399.5 340.2L401.1 340.3L402.6 351.5L404.2 350.8L405.8 338.8L407.3 338.8L408.9 352.7L410.4 352.2L412.0 352.6L413.6 339.0L415.1 342.5L416.7 354.3L418.2 355.0L419.8 346.3L421.4 344.1L422.9 349.1L424.5 350.6L426.0 348.2L427.6 345.5L429.2 354.6L430.7 356.5L432.3 351.1L433.8 347.6L435.4 354.8L437.0 359.4L438.5 358.3L440.1 347.7L441.6 348.2L443.2 359.9L444.8 361.1L446.3 348.1L447.9 348.3L449.4 349.6L451.0 353.4L452.6 352.9L454.1 356.6L455.7 355.7L457.2 350.2L458.8 351.3L460.4 356.8L461.9 359.3L463.5 368.8L465.0 360.7L466.6 365.8L468.2 375.0L469.7 371.7L471.3 371.3L472.9 361.7L474.4 367.5L476.0 371.4L477.5 379.8L479.1 384.0L480.7 377.8L482.2 370.6L483.8 378.0L485.3 385.6L486.9 385.0L488.5 367.7L490.0 369.0L491.6 371.8L493.1 394.2L494.7 398.1L496.3 380.3L497.8 377.5L499.4 391.5L500.9 400.0L502.5 397.6L504.1 379.3L505.6 390.3L507.2 396.4L508.7 402.0L510.3 399.1L511.9 392.5L513.4 387.0L515.0 385.4L516.5 392.0L518.1 392.8L519.7 389.8L521.2 402.1L522.8 411.1L524.3 392.0L525.9 402.6L527.5 426.2L529.0 428.2L530.6 412.5L532.1 403.3L533.7 412.2L535.3 426.7L536.8 426.8L538.4 420.6L540.0 424.2L541.5 425.0L543.1 424.5L544.6 430.2L546.2 411.1L547.8 427.9L549.3 432.0L550.9 417.6L552.4 419.0L554.0 418.7L555.6 425.8L557.1 442.6L558.7 433.8L560.2 419.2L561.8 431.4L563.4 447.9L564.9 445.9L566.5 434.2L568.0 425.4L569.6 446.6L571.2 464.6L572.7 456.3L574.3 441.2L575.8 460.0L577.4 471.0L579.0 461.8L580.5 441.4L582.1 449.2L583.6 466.0L585.2 466.2L586.8 450.0L588.3 466.6L589.9 476.0L591.4 463.4L593.0 450.8L594.6 453.5L596.1 477.8L597.7 480.3L599.2 454.3L600.8 452.7L602.4 469.3L603.9 482.5L605.5 482.7L607.0 461.9L608.6 460.4L610.2 472.7L611.7 486.4L613.3 488.3L614.9 472.6L616.4 462.5L618.0 498.4L619.5 507.6L621.1 502.7L622.7 483.5L624.2 484.8L625.8 508.3L627.3 498.4L628.9 492.0L630.5 504.2L632.0 505.8L633.6 494.2L635.1 490.9L636.7 511.8L638.3 515.8L639.8 506.9L641.4 502.3L642.9 520.5L644.5 521.0L646.1 512.7L647.6 513.0L649.2 515.6L650.7 523.4L652.3 534.8L653.9 514.2L655.4 512.4L657.0 537.5L658.5 535.6L660.1 529.0L661.7 510.5L663.2 516.1L664.8 549.3L666.3 555.7L667.9 534.5L669.5 531.3L671.0 543.2L672.6 558.9L674.1 546.7L675.7 534.9L677.3 534.2L678.8 560.9L680.4 558.7L682.0 551.4L683.5 535.5L685.1 541.0L686.6 552.2L688.2 539.0L689.8 556.7L691.3 549.8L692.9 551.0L694.4 544.0L696.0 539.5L697.6 546.4L699.1 557.7L700.7 550.1L702.2 546.6L703.8 538.2L705.4 547.1L706.9 546.8L708.5 538.2L710.0 544.4L711.6 549.3L713.2 545.8L714.7 544.0L716.3 548.7L717.8 537.2L719.4 539.6L721.0 548.5L722.5 543.4L724.1 545.7L725.6 553.4L727.2 553.6L728.8 534.0L730.3 535.8L731.9 554.1L733.4 556.8L735.0 549.0L736.6 543.0L738.1 545.5L739.7 547.1L741.2 542.6L742.8 545.2L744.4 553.4L745.9 548.0L747.5 547.9L749.1 545.9L750.6 546.0L752.2 549.2L753.7 545.3L755.3 542.7L756.9 549.0L758.4 547.2L760.0 544.0L761.5 536.5L763.1 542.3L764.7 551.1L766.2 546.2L767.8 537.4L769.3 538.4L770.9 548.4L772.5 548.4L774.0 550.0L775.6 542.4L777.1 543.7L778.7 541.0L780.3 541.2L781.8 541.1L783.4 544.1L784.9 540.3L786.5 543.6L788.1 545.1L789.6 541.1L791.2 539.4L792.7 544.1L794.3 551.9L795.9 551.2L797.4 542.1L799.0 536.0L800.5 544.8L802.1 550.8L803.7 548.8L805.2 538.8L806.8 540.9L808.3 542.4L809.9 540.0L811.5 547.3L813.0 551.6L814.6 545.5L816.2 540.8L817.7 540.8L819.3 539.9L820.8 549.4L822.4 551.3L824.0 536.3L825.5 538.3L827.1 547.2L828.6 550.1L830.2 541.9L831.8 535.2L833.3 539.0L834.9 550.7L836.4 548.2L838.0 540.3L839.6 535.4L841.1 539.3L842.7 550.8L844.2 550.1L845.8 543.8L847.4 545.3L848.9 541.5L850.5 542.2L852.0 538.9L853.6 544.1L855.2 544.7L856.7 544.4L858.3 546.5L859.8 537.9L861.4 535.5L863.0 539.5L864.5 546.6L866.1 525.3L867.6 509.5L869.2 508.7L870.8 515.7L872.3 516.0L873.9 507.0L875.4 506.0L877.0 509.8L878.6 515.4L880.1 513.6L881.7 505.9L883.3 504.6L884.8 513.9L886.4 425.5L887.9 383.7L889.5 379.7L891.1 379.8L892.6 381.8L894.2 382.5L895.7 381.6L897.3 379.5L898.9 367.3L900.4 321.4L902.0 322.8L903.5 315.5L905.1 315.1L906.7 321.5L908.2 318.5L909.8 320.6L911.3 316.0L912.9 317.4L914.5 317.6L916.0 315.8L917.6 318.1L919.1 321.4L920.7 317.0L922.3 313.9L923.8 314.3L925.4 322.7L926.9 319.3L928.5 313.7L930.1 319.0L931.6 320.8L933.2 321.8L934.7 314.6L936.3 312.5L937.9 317.1L939.4 320.7L941.0 320.0L942.5 314.7L944.1 313.5L945.7 317.5L947.2 320.8L948.8 319.1L950.4 313.8L951.9 314.4L953.5 322.0L955.0 321.3L956.6 313.1L958.2 313.2L959.7 320.3L961.3 321.1L962.8 320.2L964.4 319.0L966.0 315.8L967.5 313.6L969.1 319.3L970.6 320.2L972.2 319.6L973.8 314.9L975.3 312.2L976.9 315.7L978.4 320.6L980.0 320.9L981.6 313.6L983.1 317.5L984.7 321.6L986.2 321.5L987.8 313.7L989.4 313.1L990.9 322.3L992.5 321.7L994.0 313.5L995.6 313.3L997.2 319.3L998.7 319.6L1000.3 316.6L1001.8 322.2L1003.4 317.2L1005.0 312.9L1006.5 312.4L1008.1 317.7L1009.6 321.6L1011.2 316.7L1012.8 313.7L1014.3 314.3L1015.9 321.5L1017.5 321.6L1019.0 314.0L1020.6 312.6L1022.1 315.3L1023.7 321.5L1025.3 318.1L1026.8 320.2L1028.4 315.8L1029.9 313.5L1031.5 317.5L1033.1 320.6L1034.6 318.8L1036.2 313.3L1037.7 316.1L1039.3 322.0L1040.9 319.0L1042.4 313.3L1044.0 319.9L1045.5 321.3L1047.1 314.5L1048.7 315.4L1050.2 316.9L1051.8 317.5L1053.3 315.3L1054.9 312.5L1056.5 318.2L1058.0 321.3L1059.6 319.5L1061.1 314.2L1062.7 316.8L1064.3 321.8L1065.8 321.4L1067.4 312.2L1068.9 313.1L1070.5 318.9L1072.1 320.8L1073.6 320.5L1075.2 312.9L1076.7 312.2L1078.3 319.1L1079.9 321.5L1081.4 319.8L1083.0 315.8L1084.6 313.7L1086.1 318.2L1087.7 320.9L1089.2 319.0L1090.8 318.8L1092.4 313.6L1093.9 317.1L1095.5 319.6L1097.0 317.8L1098.6 313.5L1100.2 313.3L1101.7 319.3L1103.3 320.9L1104.8 317.5L1106.4 313.1L1108.0 312.9L1109.5 317.2L1111.1 321.3L1112.6 320.9L1114.2 313.3L1115.8 313.4L1117.3 317.2L1118.9 321.7L1120.4 320.2L1122.0 315.0L1123.6 312.1L1125.1 316.6L1126.7 318.6L1128.2 317.6L1129.8 312.0L1131.4 312.7L1132.9 315.3L1134.5 320.2L1136.0 317.9L1137.6 315.0L1139.2 312.8L1140.7 314.4L1142.3 320.5L1143.8 317.2L1145.4 312.6L1147.0 319.4L1148.5 321.3L1150.1 316.6L1151.7 314.1L1153.2 313.7L1154.8 317.8L1156.3 320.1L1157.9 320.3L1159.5 312.4L1161.0 312.8L1162.6 317.0L1164.1 316.0L1165.7 318.9L1167.3 319.0L1168.8 312.3L1170.4 312.5L1171.9 321.0L1173.5 321.3L1175.1 313.4L1176.6 312.2L1178.2 315.0L1179.7 319.9L1181.3 315.6L1182.9 315.2L1184.4 316.6L1186.0 319.6L1187.5 315.7L1189.1 316.0L1190.7 317.2L1192.2 314.1L1193.8 315.2L1195.3 318.9L1196.9 314.3L1198.5 312.0L1200.0 315.5L1201.6 318.6L1203.1 318.4L1204.7 316.0L1206.3 316.2L1207.8 314.9L1209.4 314.5L1210.9 316.8L1212.5 320.6L1214.1 317.5L1215.6 312.8L1217.2 314.7L1218.8 320.9L1220.3 314.0L1221.9 312.6L1223.4 313.6L1225.0 319.9L1226.6 317.6L1228.1 312.8L1229.7 312.8L1231.2 319.8L1232.8 318.5L1234.4 311.9L1235.9 311.8L1237.5 317.8L1239.0 319.9L1240.6 313.1L1242.2 312.1L1243.7 317.6L1245.3 320.1L1246.8 320.6L1248.4 313.6L1250.0 311.5L1251.5 313.9L1253.1 319.2L1254.6 317.5L1256.2 313.1L1257.8 313.5L1259.3 318.9L1260.9 319.8L1262.4 312.8L1264.0 312.8L1265.6 317.0L1267.1 316.3L1268.7 316.2L1270.2 313.7L1271.8 314.6L1273.4 319.0L1274.9 319.1L1276.5 313.0L1278.0 310.9L1279.6 316.2L1281.2 318.3L1282.7 319.3L1284.3 313.9L1285.9 311.0L1287.4 311.0L1289.0 319.7L1290.5 319.3L1292.1 314.0L1293.7 313.6L1295.2 316.3L1296.8 319.9L1298.3 319.3L1299.9 316.4L1301.5 316.0L1303.0 317.2L1304.6 316.5L1306.1 315.9L1307.7 312.9L1309.3 314.2L1310.8 312.2L1312.4 315.4L1313.9 312.8L1315.5 311.5L1317.1 316.8L1318.6 316.6L1320.2 313.4L1321.7 313.6L1323.3 314.1L1324.9 312.6L1326.4 312.9L1328.0 313.1L1329.5 316.3L1331.1 318.2L1332.7 315.0L1334.2 312.2L1335.8 311.2L1337.3 313.8L1338.9 316.8L1340.5 316.8L1342.0 313.2L1343.6 312.0L1345.1 316.4L1346.7 315.5L1348.3 312.0L1349.8 312.1L1351.4 315.5L1352.9 314.5L1354.5 313.3L1356.1 313.3L1357.6 314.6L1359.2 313.7L1360.8 312.8L1362.3 312.9L1363.9 313.5L1365.4 313.9L1367.0 313.8L1368.6 312.9L1370.1 312.9L1371.7 313.9L1373.2 313.9L1374.8 313.3L1376.4 313.3L1377.9 313.4L1379.5 313.4L1381.0 313.5L1382.6 311.7L1384.2 313.4L1385.7 313.3L1387.3 313.6L1388.8 313.8L1390.4 313.3L1392.0 313.4L1393.5 313.2L1395.1 313.7L1396.6 313.6L1398.2 313.8L1399.8 313.0L1401.3 313.2L1402.9 313.9L1404.4 313.8L1406.0 313.4L1407.6 313.0L1409.1 313.4L1410.7 313.6L1412.2 311.0L1413.8 312.9L1415.4 313.1L1416.9 313.7L1418.5 313.4L1420.0 313.1L1421.6 313.3L1423.2 313.6L1424.7 311.6L1426.3 313.5L1427.9 313.0L1429.4 312.9L1431.0 313.3L1432.5 314.0L1434.1 313.8L1435.7 312.9L1437.2 312.9L1438.8 313.9L1440.3 313.8L1441.9 313.5L1443.5 313.2L1445.0 313.6L1446.6 313.5L1448.1 313.3L1449.7 313.4L1451.3 312.9L1452.8 313.4L1454.4 313.8L1455.9 313.9L1457.5 313.0L1459.1 313.0L1460.6 313.2L1462.2 313.9L1463.7 311.2L1465.3 313.3L1466.9 313.3L1468.4 313.8L1470.0 313.6L1471.5 313.8L1473.1 313.5L1474.7 313.0L1476.2 313.5L1477.8 313.5L1479.3 312.9L1480.9 312.9L1482.5 313.6L1484.0 313.7L1485.6 313.2L1487.1 313.1L1488.7 313.4L1490.3 313.5L1491.8 313.7L1493.4 313.3L1495.0 313.4L1496.5 313.4L1498.1 313.2L1499.6 313.4L1501.2 313.8L1502.8 313.5L1504.3 312.9L1505.9 313.0L1507.4 313.8L1509.0 313.7L1510.6 313.1L1512.1 313.0L1513.7 313.5L1515.2 313.7L1516.8 313.1L1518.4 313.3L1519.9 313.6L1521.5 313.5L1523.0 313.0L1524.6 313.0L1526.2 313.5L1527.7 313.5L1529.3 313.6L1530.8 313.5L1532.4 313.0L1534.0 313.1L1535.5 313.8L1537.1 313.8L1538.6 313.3L1540.2 313.1L1541.8 313.2L1543.3 313.7L1544.9 313.7L1546.4 313.0L1548.0 313.0L1549.6 313.6L1551.1 313.8L1552.7 313.5L1554.2 313.0L1555.8 313.2L1557.4 313.7L1558.9 313.7L1560.5 313.0L1562.1 310.8L1563.6 313.3L1565.2 313.5L1566.7 313.3L1568.3 313.1L1569.9 313.2L1571.4 313.4L1573.0 313.5L1574.5 313.8L1576.1 313.5L1577.7 313.2L1579.2 313.3L1580.8 313.5L1582.3 313.3" stroke="#ff6384"/>
<path d="M622.8 252.5 L630.0 252.5 L626.4 268.5 Z" fill="#36a2eb"/>
<path d="M973.4 122.5 L980.6 122.5 L977.0 108.5 Z" fill="#36a2eb"/>
<path d="M716.4 212.5 L723.6 212.5 L720.0 199.5 Z" fill="#36a2eb"/>
<path d="M814.4 214.5 L821.6 214.5 L818.0 229.5 Z" fill="#36a2eb"/>
<path d="M503.1 266.5 L510.3 266.5 L506.7 256.5 Z" fill="#36a2eb"/>
<path d="M633.0 515.0 L640.2 515.0 L636.6 558.5 Z" fill="#ff6384"/>
<path d="M265.9 317.5 L273.1 317.5 L269.5 327.5 Z" fill="#ff6384"/>
<path d="M433.9 360.0 L441.1 360.0 L437.5 371.0 Z" fill="#ff6384"/>
<path d="M1077.4 313.0 L1084.6 313.0 L1081.0 303.0 Z" fill="#ff6384"/>
<path d="M519.9 390.5 L527.1 390.5 L523.5 378.5 Z" fill="#ff6384"/>
</g>
<rect x="584.5" y="23.5" width="130" height="45" fill="#ff6384"/>
<rect x="793.5" y="23.5" width="129.5" height="45" fill="#36a2eb"/>
<rect x="1002.5" y="23.5" width="129.5" height="45" fill="#ff9f40"/>
<g font-family="'Liberation Sans', sans-serif" font-size="36.0" fill="#666">
<text transform="translate(727.8 56.0) scale(0.985 0.960)">ud</text>
<text transform="translate(936.8 56.0) scale(0.985 0.960)">uq</text>
<text transform="translate(1145.8 56.0) scale(0.977 0.960)">speed</text>
<text transform="translate(137.0 104.2) scale(1.006 0.990)" text-anchor="end">30000</text>
<text transform="translate(137.0 176.3) scale(1.006 0.990)" text-anchor="end">20000</text>
<text transform="translate(137.0 248.4) scale(1.006 0.990)" text-anchor="end">10000</text>
<text transform="translate(137.0 323.3) scale(1.006 0.990)" text-anchor="end">0</text>
<text transform="translate(137.0 396.4) scale(1.006 0.990)" text-anchor="end">-10000</text>
<text transform="translate(137.0 468.2) scale(1.006 0.990)" text-anchor="end">-20000</text>
<text transform="translate(137.0 540.2) scale(1.006 0.990)" text-anchor="end">-30000</text>
<text transform="translate(137.0 615.0) scale(1.006 0.990)" text-anchor="end">-40000</text>
<text transform="translate(1755.2 104.2) scale(1.006 0.990)">7000</text>
<text transform="translate(1755.2 176.3) scale(1.006 0.990)">6000</text>
<text transform="translate(1755.2 248.4) scale(1.006 0.990)">5000</text>
<text transform="translate(1755.2 323.3) scale(1.006 0.990)">4000</text>
<text transform="translate(1755.2 396.4) scale(1.006 0.990)">3000</text>
<text transform="translate(1755.2 468.2) scale(1.006 0.990)">2000</text>
<text transform="translate(1755.2 540.2) scale(1.006 0.990)">1000</text>
<text transform="translate(1755.2 615.0) scale(1.006 0.990)">0</text>
<text transform="translate(166.4 633.5) rotate(-48.5) scale(1.006 0.990)" text-anchor="end" y="12.0">850</text>
<text transform="translate(205.8 633.5) rotate(-48.5) scale(1.006 0.990)" text-anchor="end" y="12.0">876</text>
<text transform="translate(247.8 633.5) rotate(-48.5) scale(1.006 0.990)" text-anchor="end" y="12.0">902</text>
<text transform="translate(287.1 633.5) rotate(-48.5) scale(1.006 0.990)" text-anchor="end" y="12.0">928</text>
<text transform="translate(329.1 633.5) rotate(-48.5) scale(1.006 0.990)" text-anchor="end" y="12.0">14</text>
<text transform="translate(368.5 633.5) rotate(-48.5) scale(1.006 0.990)" text-anchor="end" y="12.0">40</text>
<text transform="translate(410.5 633.5) rotate(-48.5) scale(1.006 0.990)" text-anchor="end" y="12.0">66</text>
<text transform="translate(449.9 633.5) rotate(-48.5) scale(1.006 0.990)" text-anchor="end" y="12.0">92</text>
<text transform="translate(491.9 633.5) rotate(-48.5) scale(1.006 0.990)" text-anchor="end" y="12.0">118</text>
<text transform="translate(531.3 633.5) rotate(-48.5) scale(1.006 0.990)" text-anchor="end" y="12.0">144</text>
<text transform="translate(570.6 633.5) rotate(-48.5) scale(1.006 0.990)" text-anchor="end" y="12.0">170</text>
<text transform="translate(612.6 633.5) rotate(-48.5) scale(1.006 0.990)" text-anchor="end" y="12.0">196</text>
<text transform="translate(652.0 633.5) rotate(-48.5) scale(1.006 0.990)" text-anchor="end" y="12.0">222</text>
<text transform="translate(694.0 633.5) rotate(-48.5) scale(1.006 0.990)" text-anchor="end" y="12.0">248</text>
<text transform="translate(733.4 633.5) rotate(-48.5) scale(1.006 0.990)" text-anchor="end" y="12.0">274</text>
<text transform="translate(775.4 633.5) rotate(-48.5) scale(1.006 0.990)" text-anchor="end" y="12.0">300</text>
<text transform="translate(814.8 633.5) rotate(-48.5) scale(1.006 0.990)" text-anchor="end" y="12.0">326</text>
<text transform="translate(856.8 633.5) rotate(-48.5) scale(1.006 0.990)" text-anchor="end" y="12.0">352</text>
<text transform="translate(896.1 633.5) rotate(-48.5) scale(1.006 0.990)" text-anchor="end" y="12.0">378</text>
<text transform="translate(935.5 633.5) rotate(-48.5) scale(1.006 0.990)" text-anchor="end" y="12.0">404</text>
<text transform="translate(977.5 633.5) rotate(-48.5) scale(1.006 0.990)" text-anchor="end" y="12.0">430</text>
<text transform="translate(1016.9 633.5) rotate(-48.5) scale(1.006 0.990)" text-anchor="end" y="12.0">456</text>
<text transform="translate(1058.9 633.5) rotate(-48.5) scale(1.006 0.990)" text-anchor="end" y="12.0">482</text>
<text transform="translate(1098.3 633.5) rotate(-48.5) scale(1.006 0.990)" text-anchor="end" y="12.0">508</text>
<text transform="translate(1140.3 633.5) rotate(-48.5) scale(1.006 0.990)" text-anchor="end" y="12.0">534</text>
<text transform="translate(1179.7 633.5) rotate(-48.5) scale(1.006 0.990)" text-anchor="end" y="12.0">560</text>
<text transform="translate(1221.7 633.5) rotate(-48.5) scale(1.006 0.990)" text-anchor="end" y="12.0">586</text>
<text transform="translate(1261.0 633.5) rotate(-48.5) scale(1.006 0.990)" text-anchor="end" y="12.0">612</text>
<text transform="translate(1300.4 633.5) rotate(-48.5) scale(1.006 0.990)" text-anchor="end" y="12.0">638</text>
<text transform="translate(1342.4 633.5) rotate(-48.5) scale(1.006 0.990)" text-anchor="end" y="12.0">664</text>
<text transform="translate(1381.8 633.5) rotate(-48.5) scale(1.006 0.990)" text-anchor="end" y="12.0">690</text>
<text transform="translate(1423.8 633.5) rotate(-48.5) scale(1.006 0.990)" text-anchor="end" y="12.0">716</text>
<text transform="translate(1463.2 633.5) rotate(-48.5) scale(1.006 0.990)" text-anchor="end" y="12.0">742</text>
<text transform="translate(1505.2 633.5) rotate(-48.5) scale(1.006 0.990)" text-anchor="end" y="12.0">768</text>
<text transform="translate(1544.5 633.5) rotate(-48.5) scale(1.006 0.990)" text-anchor="end" y="12.0">794</text>
<text transform="translate(1586.5 633.5) rotate(-48.5) scale(1.006 0.990)" text-anchor="end" y="12.0">820</text>
<text transform="translate(1625.9 633.5) rotate(-48.5) scale(1.006 0.990)" text-anchor="end" y="12.0">846</text>
<text transform="translate(1667.9 633.5) rotate(-48.5) scale(1.006 0.990)" text-anchor="end" y="12.0">872</text>
<text transform="translate(1725.3 633.5) rotate(-48.5) scale(1.006 0.990)" text-anchor="end" y="12.0">909</text>
</g>
</svg>
</body></html>
